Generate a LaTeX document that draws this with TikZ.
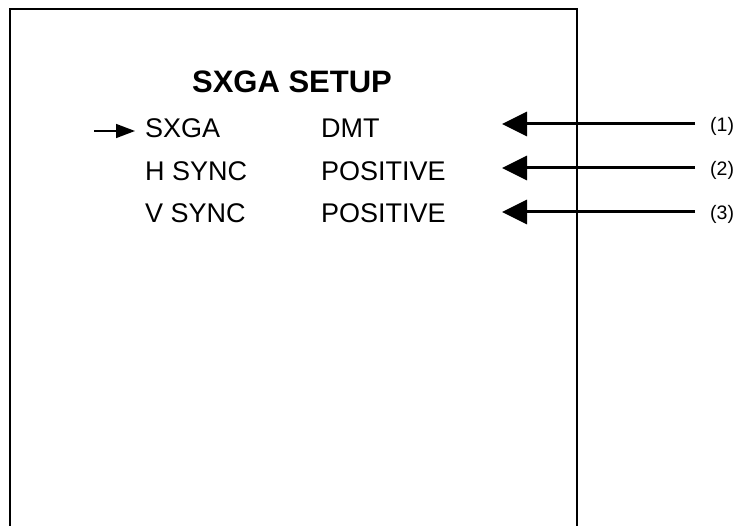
\documentclass[tikz,border=0pt]{standalone}
\usepackage{fontspec}
\setmainfont{Liberation Sans}
\usetikzlibrary{arrows.meta}
\begin{document}
\begin{tikzpicture}[x=1pt,y=-1pt,
  menutext/.style={anchor=base west,inner sep=0pt,font=\fontsize{27}{30}\selectfont},
  titletext/.style={anchor=base,inner sep=0pt,font=\fontsize{31}{34}\selectfont\bfseries},
  numlabel/.style={anchor=west,inner xsep=15pt,inner ysep=0pt,font=\fontsize{19.5}{24}\selectfont},
  bigarrow/.style={line width=3pt,-{Triangle[length=25pt,width=24pt]}},
  smallarrow/.style={line width=1.5pt,-{Triangle[length=19pt,width=14pt]}},
  frame/.style={line width=1.5pt}]
\useasboundingbox (0,0) rectangle (743,526);
% open frame
\coordinate (fbl) at (10,526);
\coordinate (ftl) at (10,9);
\coordinate (ftr) at (577,9);
\coordinate (fbr) at (577,526);
\draw[frame] (fbl) -- (ftl) -- (ftr) -- (fbr);
% texts
\node[titletext] (title) at (292,93) {SXGA SETUP};
\node[menutext] (sxga) at (145,138) {SXGA};
\node[menutext] (hsync) at (145,181) {H SYNC};
\node[menutext] (vsync) at (145,223) {V SYNC};
\node[menutext] (dmt) at (321,138) {DMT};
\node[menutext] (hpos) at (321,181) {POSITIVE};
\node[menutext] (vpos) at (321,223) {POSITIVE};
% selection arrow
\coordinate (selstart) at (94,131);
\coordinate (seltip) at (135,131);
\draw[smallarrow] (selstart) -- (seltip);
% callouts
\node[numlabel] (l1) at (695,126) {(1)};
\node[numlabel] (l2) at (695,170) {(2)};
\node[numlabel] (l3) at (695,214) {(3)};
\coordinate (t1) at (502,124);
\coordinate (t2) at (502,168);
\coordinate (t3) at (502,212);
\draw[bigarrow] (l1.west |- t1) -- (t1);
\draw[bigarrow] (l2.west |- t2) -- (t2);
\draw[bigarrow] (l3.west |- t3) -- (t3);
\end{tikzpicture}
\end{document}
